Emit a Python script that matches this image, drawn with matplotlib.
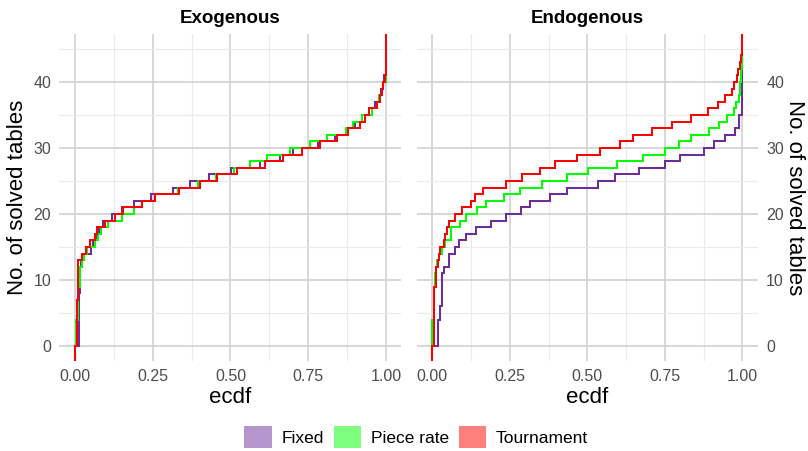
import matplotlib
matplotlib.use("Agg")
import matplotlib.pyplot as plt
from matplotlib.patches import Patch
from matplotlib.ticker import MultipleLocator

plt.rcParams['font.family'] = ['Liberation Sans', 'DejaVu Sans']

treatments = ['Fixed', 'Piece rate', 'Tournament']
colors = {'Fixed': '#6E2C9C', 'Piece rate': '#00FF00', 'Tournament': '#FF0000'}
panels = ['Exogenous', 'Endogenous']

# solved-table levels and the cumulative share at which each level ends
exo_fixed_lv = [0, 8, 12, 13, 14, 15, 16, 17, 18, 19, 20, 21, 22, 23, 24, 25, 26,
                27, 28, 29, 30, 31, 32, 33, 34, 35, 36, 37, 38, 39, 40, 41]
exo_fixed_f = [0.012, 0.016, 0.020, 0.030, 0.050, 0.058, 0.068, 0.078, 0.090, 0.120,
               0.151, 0.189, 0.245, 0.314, 0.371, 0.430, 0.502, 0.595, 0.660, 0.702,
               0.780, 0.836, 0.876, 0.900, 0.922, 0.945, 0.965, 0.978, 0.984, 0.990,
               0.995, 1.0]
exo_piece_lv = [0, 4, 9, 12, 13, 14, 15, 16, 17, 18, 19, 20, 21, 22, 23, 24, 25, 26,
                27, 28, 29, 30, 31, 32, 33, 34, 35, 36, 37, 38, 39, 40]
exo_piece_f = [0.004, 0.008, 0.016, 0.022, 0.030, 0.040, 0.063, 0.075, 0.085, 0.105,
               0.150, 0.190, 0.216, 0.258, 0.330, 0.395, 0.455, 0.510, 0.563, 0.616,
               0.691, 0.755, 0.809, 0.873, 0.895, 0.922, 0.954, 0.970, 0.978, 0.986,
               0.992, 1.0]
exo_tourn_lv = [0, 7, 13, 14, 15, 16, 17, 18, 19, 20, 21, 22, 23, 24, 25, 26, 27, 28,
                29, 30, 31, 32, 33, 34, 35, 36, 37, 38, 39, 40, 41]
exo_tourn_f = [0.006, 0.010, 0.022, 0.035, 0.049, 0.063, 0.071, 0.098, 0.128, 0.153,
               0.216, 0.258, 0.333, 0.401, 0.457, 0.520, 0.610, 0.668, 0.730, 0.788,
               0.842, 0.879, 0.916, 0.932, 0.946, 0.970, 0.981, 0.986, 0.991, 0.997, 1.0]

endo_fixed_lv = [0, 4, 6, 11, 12, 14, 15, 16, 17, 18, 19, 20, 21, 22, 23, 24, 25, 26,
                 27, 28, 29, 30, 31, 32, 33, 35, 38]
endo_fixed_f = [0.019, 0.026, 0.032, 0.037, 0.054, 0.072, 0.086, 0.108, 0.140, 0.189,
                0.237, 0.285, 0.315, 0.378, 0.434, 0.535, 0.589, 0.668, 0.751, 0.799,
                0.875, 0.909, 0.945, 0.977, 0.990, 0.998, 1.0]
endo_piece_lv = [4, 9, 11, 12, 13, 14, 15, 16, 18, 19, 20, 21, 22, 23, 24, 25, 26, 27,
                 28, 29, 30, 31, 32, 33, 34, 35, 36, 37, 38, 40, 42]
endo_piece_f = [0.004, 0.008, 0.012, 0.016, 0.022, 0.030, 0.040, 0.061, 0.088, 0.108,
                0.145, 0.173, 0.231, 0.282, 0.353, 0.434, 0.503, 0.594, 0.679, 0.751,
                0.797, 0.834, 0.891, 0.924, 0.950, 0.972, 0.980, 0.988, 0.993, 0.997, 1.0]
endo_tourn_lv = [0, 9, 12, 13, 14, 15, 16, 17, 18, 19, 20, 21, 22, 23, 24, 25, 26, 27,
                 28, 29, 30, 31, 32, 33, 34, 35, 36, 37, 38, 39, 40, 41, 42, 43, 44, 45]
endo_tourn_f = [0.005, 0.013, 0.018, 0.022, 0.026, 0.037, 0.040, 0.047, 0.054, 0.072,
                0.097, 0.123, 0.137, 0.164, 0.237, 0.288, 0.347, 0.394, 0.468, 0.540,
                0.605, 0.648, 0.708, 0.772, 0.834, 0.888, 0.920, 0.945, 0.967, 0.974,
                0.983, 0.987, 0.992, 0.995, 0.998, 1.0]

data = {
    'Exogenous': {'Fixed': (exo_fixed_lv, exo_fixed_f),
                  'Piece rate': (exo_piece_lv, exo_piece_f),
                  'Tournament': (exo_tourn_lv, exo_tourn_f)},
    'Endogenous': {'Fixed': (endo_fixed_lv, endo_fixed_f),
                   'Piece rate': (endo_piece_lv, endo_piece_f),
                   'Tournament': (endo_tourn_lv, endo_tourn_f)},
}


def step_path(levels, shares, lo=-100, hi=100):
    # flipped ecdf: vertical at previous share, horizontal at each level
    xs, ys = [0.0], [lo]
    prev = 0.0
    for v, f in zip(levels, shares):
        xs += [prev, f]
        ys += [v, v]
        prev = f
    xs.append(prev)
    ys.append(hi)
    return xs, ys


ymax = max(max(exo_tourn_lv), max(endo_tourn_lv))
ylim = (-0.05 * ymax, 1.05 * ymax)

fig = plt.figure(figsize=(8.08, 4.51), dpi=100)
axes = [fig.add_axes([0.0736, 0.1996, 0.4233, 0.725]),
        fig.add_axes([0.516, 0.1996, 0.422, 0.725])]

for ax, panel in zip(axes, panels):
    for t in treatments:
        lv, f = data[panel][t]
        xs, ys = step_path(lv, f)
        ax.plot(xs, ys, color=colors[t], lw=1.45, solid_joinstyle='miter')
    ax.set_xlim(-0.05, 1.05)
    ax.set_ylim(*ylim)
    ax.xaxis.set_major_locator(MultipleLocator(0.25))
    ax.xaxis.set_minor_locator(MultipleLocator(0.125))
    ax.yaxis.set_major_locator(MultipleLocator(10))
    ax.yaxis.set_minor_locator(MultipleLocator(5))
    ax.set_xticks([0, 0.25, 0.5, 0.75, 1.0])
    ax.set_xticklabels(['0.00', '0.25', '0.50', '0.75', '1.00'])
    ax.grid(True, which='major', color='#D4D4D4', lw=1.3)
    ax.grid(True, which='minor', color='#EAEAEA', lw=0.8)
    ax.set_axisbelow(True)
    for s in ax.spines.values():
        s.set_visible(False)
    ax.tick_params(which='both', length=0, labelsize=11.5, labelcolor='#4D4D4D')
    ax.tick_params(axis='x', pad=6)
    ax.tick_params(axis='y', pad=6)
    ax.set_title(panel, fontsize=13.5, fontweight='bold', pad=8)
    ax.set_xlabel('ecdf', fontsize=16, labelpad=2)

axes[0].set_ylabel('No. of solved tables', fontsize=16, labelpad=4)
axes[1].yaxis.tick_right()
axes[1].yaxis.set_label_position('right')
axes[1].set_ylabel('No. of solved tables', fontsize=16, rotation=270,
                   labelpad=15)

handles = [Patch(facecolor=colors[t], alpha=0.5, edgecolor='none', label=t)
           for t in treatments]
fig.legend(handles=handles, loc='lower center', ncol=3, frameon=False,
           fontsize=12.5, bbox_to_anchor=(0.515, -0.028), handlelength=1.6,
           handleheight=1.6, handletextpad=0.55, columnspacing=0.55)

fig.savefig('out.png', dpi=100)
